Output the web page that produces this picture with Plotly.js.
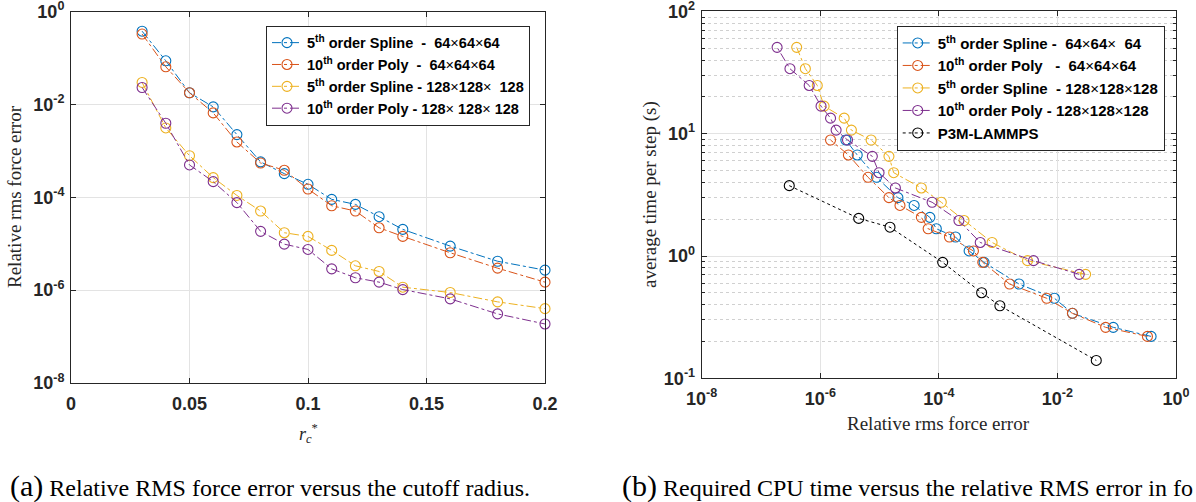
<!DOCTYPE html>
<html><head><meta charset="utf-8">
<script src="https://cdn.plot.ly/plotly-3.0.1.min.js"></script>
<style>html,body{margin:0;padding:0;background:#fff}#chart{width:1196px;height:502px}</style>
</head><body><div id="chart"></div>
<script>
// ---- data (left panel: error vs cutoff) ----
const cutoff = [0.03,0.04,0.05,0.06,0.07,0.08,0.09,0.10,0.11,0.12,0.13,0.14,0.16,0.18,0.20];
const errSpline64  = [0.38,0.0875,0.0179,0.0089,0.00225,5.8e-4,3.24e-4,1.91e-4,9.06e-5,7.06e-5,3.83e-5,2.04e-5,8.9e-6,4.2e-6,2.7e-6];
const errPoly64    = [0.33,0.065,0.0179,0.0066,0.00156,5.5e-4,3.83e-4,1.51e-4,6.6e-5,5.07e-5,2.21e-5,1.44e-5,6.4e-6,2.98e-6,1.49e-6];
const errSpline128 = [0.0299,0.00313,7.9e-4,2.66e-4,1.1e-4,5.07e-5,1.73e-5,1.44e-5,7.2e-6,3.35e-6,2.53e-6,1.16e-6,8.9e-7,5.6e-7,4.0e-7];
const errPoly128   = [0.0233,0.00395,4.99e-4,2.18e-4,7.7e-5,1.85e-5,9.8e-6,7.55e-6,2.88e-6,1.85e-6,1.49e-6,1.03e-6,6.5e-7,3.08e-7,1.87e-7];
// ---- data (right panel: time per step vs error) ----
const timeSpline64  = [0.22,0.261,0.34,0.451,0.59,0.887,1.10,1.43,1.67,2.07,2.59,3.0,4.40,6.70,8.88];
const timePoly64    = [0.22,0.261,0.34,0.451,0.59,0.887,1.10,1.43,1.67,2.07,2.59,3.0,4.40,6.70,8.88];
const timeSpline128 = [0.708,0.916,1.29,1.95,2.75,3.60,4.80,6.53,8.88,10.7,13.4,16.8,24.8,34.0,50.8];
const timePoly128   = [0.708,0.916,1.29,1.95,2.75,3.60,4.80,6.53,8.88,10.7,13.4,16.8,24.8,34.0,50.8];
const lammpsErr  = [3.0e-7,4.45e-6,1.5e-5,1.16e-4,5.27e-4,1.07e-3,0.0452];
const lammpsTime = [3.76,2.03,1.72,0.887,0.501,0.392,0.140];
// ---- labels ----
const X = '<span style="font-weight:normal">×</span>';
const leftNames = [
  '5<sup>th</sup> order Spline \u00a0-\u00a0 64'+X+'64'+X+'64',
  '10<sup>th</sup> order Poly \u00a0-\u00a0 64'+X+'64'+X+'64',
  '5<sup>th</sup> order Spline - 128'+X+'128'+X+' \u00a0128',
  '10<sup>th</sup> order Poly - 128'+X+' 128'+X+' 128'];
const rightNames = [
  '5<sup>th</sup> order Spline - \u00a064'+X+'64'+X+' \u00a064',
  '10<sup>th</sup> order Poly \u00a0 - \u00a064'+X+'64'+X+'64',
  '5<sup>th</sup> order Spline \u00a0- 128'+X+'128'+X+'128',
  '10<sup>th</sup> order Poly - 128'+X+'128'+X+'128',
  'P3M-LAMMPS'];
const leftXTickVals = [0,0.05,0.1,0.15,0.2];
const leftXTickText = ['0','0.05','0.1','0.15','0.2'];
const leftYTickVals = [1e-8,1e-6,1e-4,1e-2,1];
const leftYTickText = ['10<sup>-8</sup>','10<sup>-6</sup>','10<sup>-4</sup>','10<sup>-2</sup>','10<sup>0</sup>'];
const rightXTickVals = [1e-8,1e-6,1e-4,1e-2,1];
const rightXTickText = ['10<sup>-8</sup>','10<sup>-6</sup>','10<sup>-4</sup>','10<sup>-2</sup>','10<sup>0</sup>'];
const rightYTickVals = [0.1,1,10,100];
const rightYTickText = ['10<sup>-1</sup>','10<sup>0</sup>','10<sup>1</sup>','10<sup>2</sup>'];
const colors = ['#0072BD','#D95319','#EDB120','#7E2F8E','#000000'];

const minorY = [];
[0.1,1,10].forEach(d => { for (let k=2;k<=9;k++) minorY.push(+(k*d).toPrecision(3)); });

function tr(x,y,name,color,dash,xa,ya,leg){
  return {x:x,y:y,name:name,type:'scatter',mode:'lines+markers',xaxis:xa,yaxis:ya,legend:leg,
    cliponaxis:false,
    line:{color:color,width:1,dash:dash},
    marker:{symbol:'circle-open',size:10,color:color,line:{width:1.1,color:color}}};
}
const data = [
  tr(cutoff,errSpline64,leftNames[0],colors[0],'dashdot','x','y','legend'),
  tr(cutoff,errPoly64,leftNames[1],colors[1],'dashdot','x','y','legend'),
  tr(cutoff,errSpline128,leftNames[2],colors[2],'dashdot','x','y','legend'),
  tr(cutoff,errPoly128,leftNames[3],colors[3],'dashdot','x','y','legend'),
  tr(errSpline64,timeSpline64,rightNames[0],colors[0],'dashdot','x2','y2','legend2'),
  tr(errPoly64,timePoly64,rightNames[1],colors[1],'dashdot','x2','y2','legend2'),
  tr(errSpline128,timeSpline128,rightNames[2],colors[2],'dashdot','x2','y2','legend2'),
  tr(errPoly128,timePoly128,rightNames[3],colors[3],'dashdot','x2','y2','legend2'),
  tr(lammpsErr,lammpsTime,rightNames[4],colors[4],'dot','x2','y2','legend2')
];

const W=1196,H=502;
const tickFont = {family:'Liberation Sans, Arial, sans-serif',size:18,color:'#262626',weight:700};
const axBase = {showline:true,linecolor:'#262626',linewidth:1,mirror:'allticks',ticks:'inside',ticklen:5,
  tickcolor:'#262626',showgrid:true,gridcolor:'#e3e3e3',gridwidth:1,zeroline:false,tickfont:tickFont,
  tickmode:'array',automargin:false,ticklabeloverflow:'allow'};
const serif = 'Liberation Serif, Times New Roman, serif';

const layout = {
  width:W,height:H,margin:{l:0,r:0,t:0,b:0},paper_bgcolor:'#fff',plot_bgcolor:'#fff',
  showlegend:true,
  xaxis:Object.assign({},axBase,{domain:[71/W,545/W],range:[0,0.2],tickvals:leftXTickVals,ticktext:leftXTickText,anchor:'y',ticklabelstandoff:4}),
  yaxis:Object.assign({},axBase,{domain:[1-383/H,1-11.7/H],type:'log',range:[-8,0],tickvals:leftYTickVals,ticktext:leftYTickText,anchor:'x',ticklabelstandoff:2}),
  xaxis2:Object.assign({},axBase,{domain:[701.7/W,1176/W],type:'log',range:[-8,0],tickvals:rightXTickVals,ticktext:rightXTickText,anchor:'y2',ticklabelstandoff:4}),
  yaxis2:Object.assign({},axBase,{domain:[1-378.3/H,1-11.4/H],type:'log',range:[-1,2],tickvals:rightYTickVals,ticktext:rightYTickText,anchor:'x2',ticklabelstandoff:2,
    minor:{tickmode:'array',tickvals:minorY,ticks:'inside',ticklen:3,tickcolor:'#262626',showgrid:true,gridcolor:'#d0d0d0',griddash:'dot',gridwidth:1}}),
  legend:{x:266/W,y:1-25.7/H,xanchor:'left',yanchor:'top',bgcolor:'#fff',bordercolor:'#262626',borderwidth:1,
    font:{family:'Liberation Sans, Arial, sans-serif',size:14.5,color:'#000',weight:700},tracegroupgap:0},
  legend2:{x:896.7/W,y:1-25.7/H,xanchor:'left',yanchor:'top',bgcolor:'#fff',bordercolor:'#262626',borderwidth:1,
    font:{family:'Liberation Sans, Arial, sans-serif',size:15,color:'#000',weight:700},tracegroupgap:0},
  annotations:[
    {xref:'paper',yref:'paper',x:14/W,y:1-197/H,text:'Relative rms force error',textangle:-90,showarrow:false,
      font:{family:serif,size:19,color:'#262626'},xanchor:'center',yanchor:'middle'},
    {xref:'paper',yref:'paper',x:308/W,y:1-433/H,text:'<i>r</i><sub><i>c</i></sub><sup>*</sup>',showarrow:false,
      font:{family:serif,size:18,color:'#262626'},xanchor:'center',yanchor:'middle'},
    {xref:'paper',yref:'paper',x:938.5/W,y:1-423.5/H,text:'Relative rms force error',showarrow:false,
      font:{family:serif,size:19,color:'#262626'},xanchor:'center',yanchor:'middle'},
    {xref:'paper',yref:'paper',x:650/W,y:1-195/H,text:'average time per step (s)',textangle:-90,showarrow:false,
      font:{family:serif,size:19,color:'#262626'},xanchor:'center',yanchor:'middle'},
    {xref:'paper',yref:'paper',x:8/W,y:1-486/H,text:'<span style="font-size:30px">(a)</span> Relative RMS force error versus the cutoff radius.',showarrow:false,
      font:{family:serif,size:24,color:'#000'},xanchor:'left',yanchor:'middle'},
    {xref:'paper',yref:'paper',x:1195/W,y:1-486/H,text:'<span style="font-size:30px">(b)</span> Required CPU time versus the relative RMS error in fo',showarrow:false,
      font:{family:serif,size:24,color:'#000'},xanchor:'right',yanchor:'middle'}
  ]
};
Plotly.newPlot('chart',data,layout,{displayModeBar:false,staticPlot:true});
</script></body></html>
